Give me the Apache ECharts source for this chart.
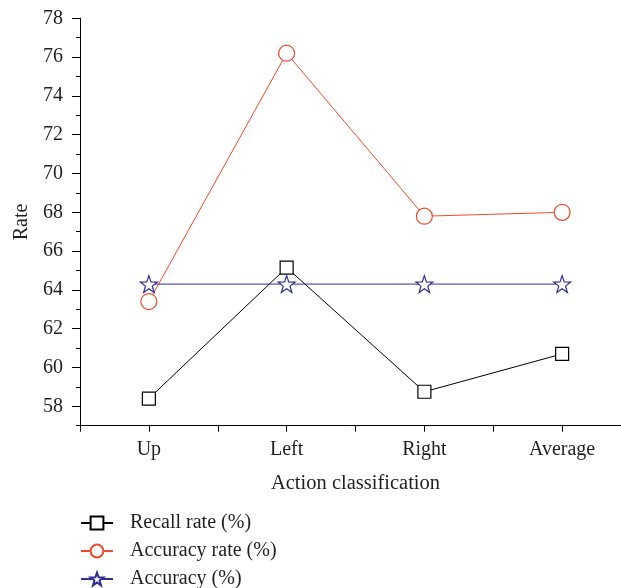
<!DOCTYPE html>
<html><head><meta charset="utf-8">
<script src="https://cdn.jsdelivr.net/npm/echarts@6/dist/echarts.min.js"></script>
<style>html,body{margin:0;padding:0;background:#fff}#c{width:621px;height:588px}</style>
</head><body><div id="c"></div>
<script>
var categories = ['Up', 'Left', 'Right', 'Average'];
var recallRate = [58.4, 65.15, 58.75, 60.7];
var accuracyRate = [63.4, 76.2, 67.8, 68.0];
var accuracy = [64.3, 64.3, 64.3, 64.3];
var seriesNames = ['Recall rate (%)', 'Accuracy rate (%)', 'Accuracy (%)'];
var yMajorTicks = [58, 60, 62, 64, 66, 68, 70, 72, 74, 76, 78];

function pts(arr){ return arr.map(function(v,i){ return [i+1, v]; }); }
var font = 'Liberation Serif';
var txt = '#231f20';
var legendTops = [513, 541, 569];
var chart = echarts.init(document.getElementById('c'), null, {renderer:'canvas'});
chart.setOption({
  animation:false,
  backgroundColor:'#fff',
  grid:{left:80, top:18.3, width:551, height:407.4, containLabel:false, outerBoundsMode:'none'},
  xAxis:{
    type:'value', min:0.5, max:4.5, interval:0.5,
    name:'Action classification', nameLocation:'middle', nameGap:47,
    nameTextStyle:{fontFamily:font, fontSize:20.5, color:txt},
    axisLine:{show:true, lineStyle:{color:'#000', width:1}},
    axisTick:{show:true, inside:false, length:6, lineStyle:{color:'#000'}},
    splitLine:{show:false},
    axisLabel:{margin:14, fontFamily:font, fontSize:20, color:txt,
      showMinLabel:true, showMaxLabel:true,
      formatter:function(v){ var i=Math.round(v); return (Math.abs(v-i)<1e-6 && i>=1 && i<=categories.length)? categories[i-1] : ''; }}
  },
  yAxis:[{
    type:'value', min:57, max:78, interval:1,
    name:'Rate', nameLocation:'middle', nameGap:48,
    nameTextStyle:{fontFamily:font, fontSize:20, color:txt},
    axisLine:{show:true, lineStyle:{color:'#000', width:1}},
    axisTick:{show:true, length:4, lineStyle:{color:'#000'}},
    splitLine:{show:false},
    axisLabel:{show:false}
  },{
    type:'value', min:57, max:78, interval:1, position:'left', offset:0,
    axisLine:{show:true, lineStyle:{color:'#000', width:1}},
    axisTick:{show:true, length:8, customValues:yMajorTicks, lineStyle:{color:'#000'}},
    splitLine:{show:false},
    axisLabel:{margin:17, fontFamily:font, fontSize:20, color:txt, customValues:yMajorTicks}
  }],
  legend: seriesNames.map(function(n, k){
    return {
      orient:'vertical', left:80, top:legendTops[k], padding:0, itemWidth:32, itemHeight:16,
      textStyle:{fontFamily:font, fontSize:20, color:txt, padding:[0,0,0,12]},
      data:[n]
    };
  }),
  series:[
    {name:seriesNames[0], type:'line', data:pts(recallRate), symbol:'rect', symbolSize:13,
     lineStyle:{color:'#000', width:1}, itemStyle:{color:'#fff', borderColor:'#000', borderWidth:1.2}, z:3},
    {name:seriesNames[1], type:'line', data:pts(accuracyRate), symbol:'circle', symbolSize:16,
     lineStyle:{color:'#ef4a2c', width:1}, itemStyle:{color:'#fff', borderColor:'#ef4a2c', borderWidth:1.2}, z:2},
    {name:seriesNames[2], type:'line', data:pts(accuracy), symbol:'path://M0,-10 L2.35,-3.24 L9.51,-3.09 L3.8,1.24 L5.88,8.09 L0,4 L-5.88,8.09 L-3.8,1.24 L-9.51,-3.09 L-2.35,-3.24 Z', symbolSize:17,
     lineStyle:{color:'#2e2e93', width:1}, itemStyle:{color:'#fff', borderColor:'#2e2e93', borderWidth:1.2}, z:4}
  ]
});
</script></body></html>
